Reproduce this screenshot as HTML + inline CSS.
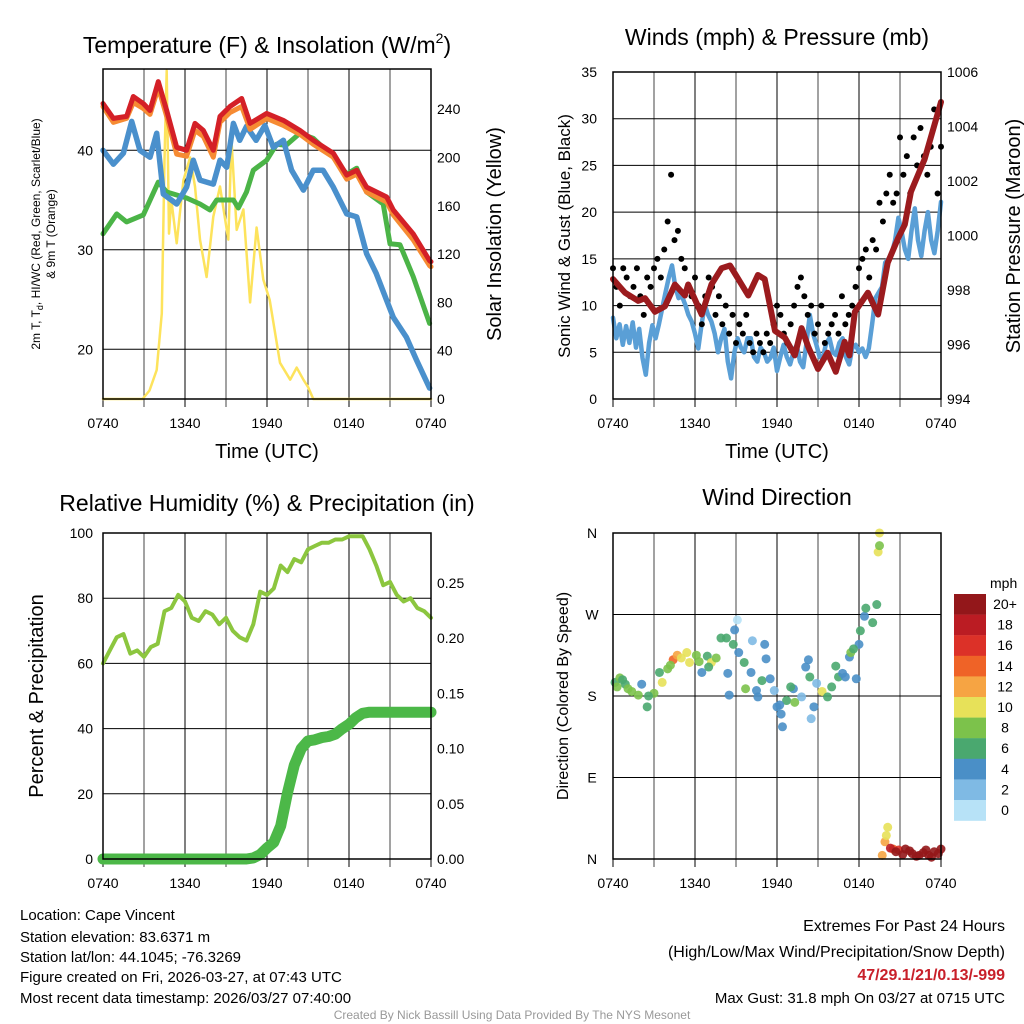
<!DOCTYPE html>
<html><head><meta charset="utf-8">
<style>
body{margin:0;background:#fff;}
svg{display:block;font-family:"Liberation Sans",sans-serif;}
</style></head>
<body>
<svg id="s" width="1024" height="1024" viewBox="0 0 1024 1024" xmlns="http://www.w3.org/2000/svg">
<rect width="1024" height="1024" fill="#fff"/>
<g id="grid"></g>
<g id="marks"></g>
<g id="frames"></g>
<g id="labels" font-size="14" fill="#000">
<text x="267" y="53" font-size="23" text-anchor="middle">Temperature (F) &amp; Insolation (W/m<tspan font-size="14" dy="-10">2</tspan><tspan dy="10">)</tspan></text>
<text x="777" y="45" font-size="23" text-anchor="middle">Winds (mph) &amp; Pressure (mb)</text>
<text x="267" y="511" font-size="23" text-anchor="middle">Relative Humidity (%) &amp; Precipitation (in)</text>
<text x="777" y="505" font-size="23" text-anchor="middle">Wind Direction</text>
<text x="267" y="458" font-size="20" text-anchor="middle">Time (UTC)</text>
<text x="777" y="458" font-size="20" text-anchor="middle">Time (UTC)</text>
<text transform="translate(40,234) rotate(-90)" font-size="12" text-anchor="middle">2m T, T<tspan font-size="9" dy="3">d</tspan><tspan dy="-3">, HI/WC (Red, Green, Scarlet/Blue)</tspan></text>
<text transform="translate(55,234) rotate(-90)" font-size="12" text-anchor="middle">&amp; 9m T (Orange)</text>
<text transform="translate(501,234) rotate(-90)" font-size="20" text-anchor="middle">Solar Insolation (Yellow)</text>
<text transform="translate(570,236) rotate(-90)" font-size="17" text-anchor="middle">Sonic Wind &amp; Gust (Blue, Black)</text>
<text transform="translate(1020,236) rotate(-90)" font-size="20" text-anchor="middle">Station Pressure (Maroon)</text>
<text transform="translate(43,696) rotate(-90)" font-size="20" text-anchor="middle">Percent &amp; Precipitation</text>
<text transform="translate(568,696) rotate(-90)" font-size="16" text-anchor="middle">Direction (Colored By Speed)</text>
<g font-size="15">
<text x="20" y="920">Location: Cape Vincent</text>
<text x="20" y="942">Station elevation: 83.6371 m</text>
<text x="20" y="962">Station lat/lon: 44.1045; -76.3269</text>
<text x="20" y="982">Figure created on Fri, 2026-03-27, at 07:43 UTC</text>
<text x="20" y="1003">Most recent data timestamp: 2026/03/27 07:40:00</text>
</g>
<g font-size="16" text-anchor="end">
<text x="1005" y="931">Extremes For Past 24 Hours</text>
<text x="1005" y="957">(High/Low/Max Wind/Precipitation/Snow Depth)</text>
<text x="1005" y="980" fill="#c8202a" font-weight="bold">47/29.1/21/0.13/-999</text>
<text x="1005" y="1003" font-size="15">Max Gust: 31.8 mph On 03/27 at 0715 UTC</text>
</g>
<text x="512" y="1019" font-size="12" fill="#999" text-anchor="middle">Created By Nick Bassill Using Data Provided By The NYS Mesonet</text>
</g>
</svg>
<script>
// ---------- data ----------
const xTickLabels = ["0740","1340","1940","0140","0740"];
const redH = [0,0.76,1.73,2.22,2.95,3.44,4.05,4.66,5.39,6.12,6.73,7.34,8.07,8.56,9.29,10.15,10.76,11.98,13.2,14.41,15.39,16.85,17.83,18.56,19.29,20.76,21.24,22.7,23.9,24];
const redT = [44.7,43.2,43.4,45.4,44.7,44.0,46.9,44.0,40.3,40.0,42.7,42.0,40.0,43.4,44.4,45.2,42.7,43.7,43.0,42.0,41.0,39.7,37.5,38.0,36.3,35.3,34.0,31.6,28.9,28.8];
const orgT = [44.6,43.0,43.4,45.0,44.4,43.8,46.5,43.6,39.8,39.6,42.2,41.6,39.5,43.0,44.0,44.6,42.3,43.4,42.7,41.8,40.8,39.5,37.3,37.8,36.0,35.0,33.7,31.2,28.6,28.5];
const blueH = [0,0.76,1.49,2.1,2.7,3.44,3.93,4.41,5.39,6.12,6.61,7.1,8.07,8.56,9.05,9.54,10.0,10.5,11.2,11.85,12.46,13.2,13.8,14.66,15.39,16.1,16.85,17.83,18.56,19.29,20.0,20.76,21.24,22.2,22.95,23.9];
const blueT = [40.0,38.6,39.7,42.9,40.0,39.3,41.7,35.6,34.6,36.3,39.0,37.0,36.6,39.0,38.3,42.7,41.0,42.4,41.0,42.5,40.3,41.0,38.0,36.0,38.0,38.0,36.3,33.6,33.3,29.6,27.6,24.9,23.2,21.2,18.9,16.1];
const greenH = [0,1.0,1.73,2.95,4.05,4.66,5.15,6.12,7.1,7.83,8.32,9.54,9.9,10.5,11.0,11.98,12.7,13.4,14.41,15.39,16.85,17.83,18.56,19.29,20.5,21.0,21.73,22.7,23.9];
const greenT = [31.6,33.6,32.8,33.5,36.8,35.8,35.6,35.2,34.6,34.0,35.0,35.0,34.2,35.8,38.0,39.0,40.6,40.5,41.7,41.2,39.3,37.6,38.2,35.8,34.6,30.6,30.5,27.3,22.6];
const solarH = [0,2.9,3.4,3.93,4.3,4.5,4.66,4.83,5.0,5.39,5.88,6.37,6.73,7.1,7.58,8.07,8.56,9.17,9.4,9.78,10.27,10.76,11.24,11.73,12.2,12.95,13.7,14.17,14.66,15.0,15.39,24];
const solarV = [0,0,7,24,71,198,272,137,165,129,181,200,176,132,101,151,176,132,214,140,157,80,142,99,82,30,16,26,16,10,0,0];
const presH = [0,0.88,1.85,2.34,3.07,3.8,4.53,5.26,5.5,6.49,7.2,7.95,8.56,9.17,9.9,10.6,11.1,11.85,12.58,13.3,13.8,14.3,15.0,15.7,16.3,16.95,17.3,17.7,18.65,19.4,20.1,20.86,21.35,21.8,22.8,24.0];
const presV = [998.4,997.9,997.6,997.7,997.2,997.4,998.2,997.8,998.2,997.1,998.2,998.8,998.9,998.4,997.8,998.55,998.4,996.5,996.25,995.6,996.6,995.9,995.1,995.7,995.0,996.1,995.6,997.2,997.9,997.1,999.0,999.9,1000.4,1001.6,1002.8,1004.9];
const windV = [8.7,6.5,8,5.8,7.8,6,8.2,5.5,7.5,4.4,2.6,6,7.9,6.5,8,9.7,
 11.4,13,14.3,12,10.8,11,10.1,9,8.3,7,5.4,8,10.1,9,8.3,7,5.0,6.5,7.5,4,2.2,5,6.5,5.5,5.0,6.5,6.5,4.5,4.0,5.5,5.0,4,4.4,5.5,3.0,4.5,5.8,4.5,3.7,5,5.8,4,3.4,6,9.0,7,5.8,4.5,4.4,6,6.5,5,4.7,6,6.5,4.5,3.7,5.5,5.8,5,5.4,4.5,5.4,8,10.8,11.4,12,14.6,15,15.6,17,19.4,17.9,16,15.0,18,20.4,17,15.3,18,20.0,17,15.6,18,21.1];
const gustV = [14,12,10,14,13,11,12,14,11,9,13,12,14,15,13,16,19,24,17,18,15,14,12,11,13,10,8,11,13,12,9,11,8,10,7,9,6,8,7,9,6,5,7,6,5,7,6,8,10,9,7,6,8,10,12,13,11,9,10,7,8,10,6,7,8,9,7,11,8,9,10,12,14,15,16,13,17,16,21,19,22,24,21,22,28,24,26,22,28,25,29,26,24,27,31,22,27];
const gustStep = 0.25;
const rhV = [60,64,68,69,63,64,62,65,66,76,77,81,79,74,73,76,75,72,74,70,68,67,72,82,81,83,90,88,92,91,95,96,97,97,98,98,99,99,99,95,90,84,85,81,79,80,77,76,74];
const precipV = [0,0,0,0,0,0,0,0,0,0,0,0,0,0,0,0,0,0,0,0,0,0,0.001,0.004,0.01,0.015,0.03,0.06,0.085,0.1,0.107,0.108,0.11,0.111,0.113,0.118,0.122,0.128,0.132,0.133,0.133,0.133,0.133,0.133,0.133,0.133,0.133,0.133,0.133];
const halfStep = 0.5;
const dirH = [0.15,0.5,0.9,1.37,1.85,2.1,2.5,3.0,3.4,3.6,4.0,4.4,4.7,5.4,5.6,6.1,6.5,6.9,7.2,7.55,7.9,8.3,8.4,8.5,8.8,8.9,9.1,9.2,9.6,9.7,10.1,10.2,10.5,10.6,10.9,11.1,11.2,11.5,11.8,12.0,12.3,12.4,12.7,13.2,13.3,13.8,14.1,14.3,14.4,14.5,14.7,14.9,15.3,15.7,16.0,16.3,16.5,17.0,17.3,17.4,17.8,18.0,18.1,18.4,18.5,19.0,19.3,19.4,19.5,19.5,19.7,19.9,20.0,20.1,20.5,20.9,21.4,21.9,22.4,22.9,23.3,23.8,24.0,0.3,0.7,1.1,2.6,4.2,5.0,6.3,7.0,12.2,13.0,16.8,17.6,20.3,20.7,21.2,21.7,22.2,22.7,23.1,23.5];
const dirV = [195,200,193,185,181,193,168,183,206,195,210,220,225,228,217,225,206,224,217,222,244,244,205,181,237,253,264,228,217,188,206,241,186,179,197,237,221,199,186,168,160,146,175,188,173,179,212,220,201,155,168,194,185,179,190,213,201,201,223,228,199,237,252,268,277,261,281,339,346,360,4,19,26,35,11,10,11,6,4,10,2,6,11,190,198,188,180,214,222,218,212,170,190,205,232,12,8,5,9,3,7,4,8];
const dirS = [7,8,7,8,8,4,6,8,6,10,8,15,13,10,10,8,4,6,10,8,6,6,4,4,6,4,0,4,6,8,4,2,4,4,6,4,4,4,2,4,4,4,6,4,8,2,4,4,6,2,4,2,10,6,6,6,6,4,4,8,4,4,6,4,6,6,6,10,8,10,12,12,10,10,14,16,20,20,20,20,20,20,20,8,7,8,6,9,11,8,6,4,6,4,6,18,20,20,20,20,20,20,20];
const cbLabels = ["20+","18","16","14","12","10","8","6","4","2","0"];
const cbColors = ["#93171a","#bb1c23","#dc3128","#ef6327","#f6a443","#e7e159","#7cc24b","#4aa86f","#4a8fc7","#7fbae4","#b7e2f7"];

// ---------- helpers ----------
const NS="http://www.w3.org/2000/svg";
const G=document.getElementById('grid'), M=document.getElementById('marks'), F=document.getElementById('frames'), L=document.getElementById('labels');
function el(tag,attrs,parent){const e=document.createElementNS(NS,tag);for(const k in attrs)e.setAttribute(k,attrs[k]);parent.appendChild(e);return e;}
function xs(x0){return h=>x0+h*328/24;}
const P1={x0:103,y0:69,y1:399}, P2={x0:613,y0:72,y1:399}, P3={x0:103,y0:533,y1:859}, P4={x0:613,y0:533,y1:859};
const yTemp=t=>399-(t-15)*9.95, ySol=s=>399-s*1.2075, yWind=m=>399-m*9.343, yPres=p=>399-(p-994)*27.25;
const yRH=v=>859-v*3.26, yPcp=p=>859-p*1104, yDir=d=>859-d*0.9056;

function panelFrame(p,name,hLines){
  const x1=p.x0+328;
  for(let i=0;i<=8;i++){const x=p.x0+i*41;
    const l=el('line',{x1:x,x2:x,y1:(i===0||i===8)?p.y1:p.y0,y2:p.y1+8,stroke:i%2?'#444':'#000','stroke-width':1},G);
    
    }
  hLines.forEach(y=>{const l=el('line',{x1:p.x0,x2:x1,y1:y,y2:y,stroke:'#000','stroke-width':1},G);
    
    });
  const r=el('rect',{x:p.x0,y:p.y0,width:328,height:p.y1-p.y0,fill:'none',stroke:'#000','stroke-width':1.5},F);
  
  
  xTickLabels.forEach((s,i)=>{const t=el('text',{x:p.x0+i*82,y:p.y1+29,'text-anchor':'middle','font-size':14},L);t.textContent=s;
    
    });
}
function ylab(x,y,s,anchor,name){const t=el('text',{x:x,y:y+5,'text-anchor':anchor,'font-size':14},L);t.textContent=s;
  
  }
function poly(hs,vs,xf,yf,color,w,name){
  const pts=hs.map((h,i)=>xf(h).toFixed(1)+','+yf(vs[i]).toFixed(1)).join(' ');
  const p=el('polyline',{points:pts,fill:'none',stroke:color,'stroke-width':w,'stroke-linejoin':'round','stroke-linecap':'round'},M);
  
  
}
function steps(n,st){return Array.from({length:n},(_,i)=>i*st);}
function spdColor(s){const idx=Math.min(10,Math.max(0,Math.floor(s/2)));return cbColors[10-idx];}

// ---------- panel 1 ----------
const X1=xs(P1.x0);
panelFrame(P1,'temp',[20,30,40].map(yTemp));
[20,30,40].forEach(v=>ylab(93,yTemp(v),v,'end','temp-y-tick'));
[0,40,80,120,160,200,240].forEach(v=>ylab(437,ySol(v),v,'start','solar-y-tick'));
poly(solarH,solarV,X1,ySol,'#fde35c',2.5,'solar-line');
poly(greenH,greenT,X1,yTemp,'#4bb447',5,'heat-index-line');
poly(blueH,blueT,X1,yTemp,'#4a90cc',5.5,'dewpoint-line');
poly(redH,orgT,X1,t=>yTemp(t)+2,'#f68b33',5,'9m-temp-line');
poly(redH,redT,X1,yTemp,'#d42027',5,'2m-temp-line');

// ---------- panel 2 ----------
const X2=xs(P2.x0);
panelFrame(P2,'wind',[5,10,15,20,25,30].map(yWind));
[0,5,10,15,20,25,30,35].forEach(v=>ylab(597,yWind(v),v,'end','wind-y-tick'));
[994,996,998,1000,1002,1004,1006].forEach(v=>ylab(947,yPres(v),v,'start','pressure-y-tick'));
poly(steps(windV.length,24/(windV.length-1)),windV,X2,yWind,'#5a9fd6',4.5,'wind-speed-line');
gustV.forEach((g,i)=>{const c=el('circle',{cx:X2(i*gustStep),cy:yWind(g),r:3,fill:'#000'},M);
  
  });
poly(presH,presV,X2,yPres,'#9b1b1e',6,'pressure-line');

// ---------- panel 3 ----------
const X3=xs(P3.x0);
panelFrame(P3,'rh',[20,40,60,80].map(yRH));
[0,20,40,60,80,100].forEach(v=>ylab(93,yRH(v),v,'end','rh-y-tick'));
[0,0.05,0.10,0.15,0.20,0.25].forEach(v=>ylab(437,yPcp(v),v.toFixed(2),'start','precip-y-tick'));
poly(steps(rhV.length,halfStep),rhV,X3,yRH,'#8cc63f',4,'rh-line');
poly(steps(precipV.length,halfStep),precipV,X3,yPcp,'#4cb848',11,'precip-line');

// ---------- panel 4 ----------
const X4=xs(P4.x0);
panelFrame(P4,'dir',[90,180,270].map(yDir));
["N","E","S","W","N"].forEach((s,i)=>ylab(592,yDir(i*90),s,'middle','dir-y-tick'));
dirH.forEach((h,i)=>{const c=el('circle',{cx:X4(h),cy:yDir(dirV[i]),r:4.5,fill:spdColor(dirS[i]),opacity:0.9},M);
  
  });
// colorbar
const cbt=el('text',{x:990,y:588,'font-size':14},L);cbt.textContent='mph';


cbColors.forEach((c,i)=>{const y=594+i*20.6;
  const r=el('rect',{x:954,y:y,width:32,height:20.8,fill:c},M);
  
  
  const t=el('text',{x:1005,y:y+15,'text-anchor':'middle','font-size':14},L);t.textContent=cbLabels[i];
  
  });
</script>
</body></html>
